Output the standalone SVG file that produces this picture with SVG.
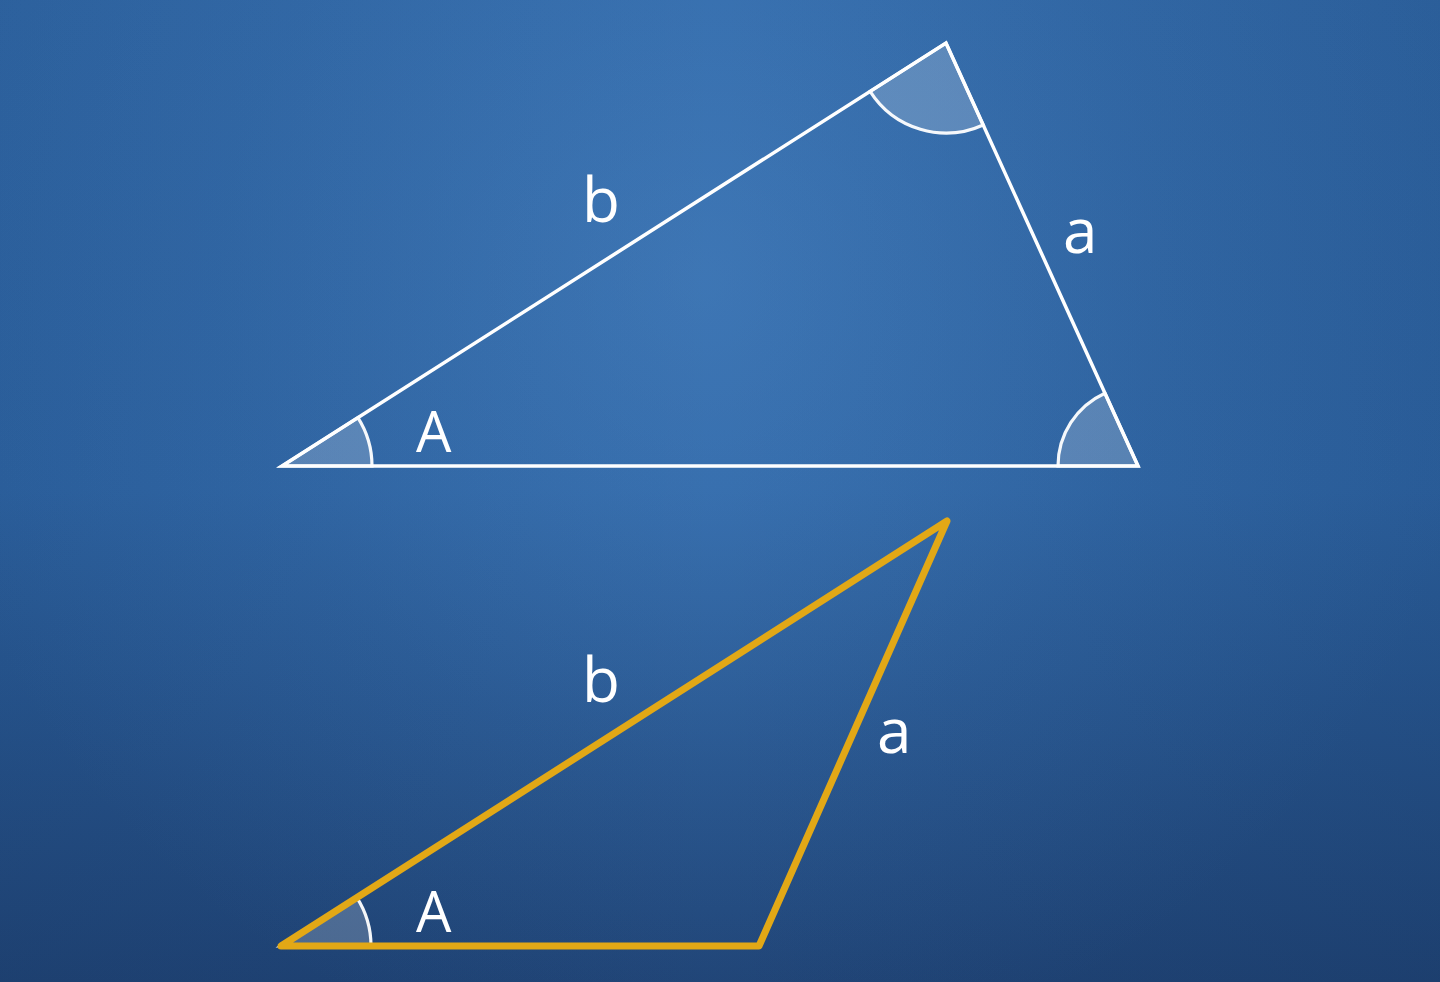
<svg xmlns="http://www.w3.org/2000/svg" width="1440" height="982" viewBox="0 0 1440 982">
  <defs>
    <linearGradient id="bgl" x1="0" y1="0" x2="0" y2="982" gradientUnits="userSpaceOnUse">
      <stop offset="0" stop-color="#3068a8"/>
      <stop offset="0.5" stop-color="#2d64a4"/>
      <stop offset="1" stop-color="#1f4375"/>
    </linearGradient>
    <radialGradient id="bgr" cx="700" cy="280" r="800" gradientUnits="userSpaceOnUse">
      <stop offset="0" stop-color="#5a94d0" stop-opacity="0.35"/>
      <stop offset="0.6" stop-color="#5a94d0" stop-opacity="0.1"/>
      <stop offset="1" stop-color="#5a94d0" stop-opacity="0"/>
    </radialGradient>
    <linearGradient id="bgh" x1="0" y1="0" x2="1440" y2="0" gradientUnits="userSpaceOnUse">
      <stop offset="0" stop-color="#10284a" stop-opacity="0.12"/>
      <stop offset="0.5" stop-color="#10284a" stop-opacity="0"/>
      <stop offset="1" stop-color="#10284a" stop-opacity="0.15"/>
    </linearGradient>
    <style>
      .tri-w { fill: none; stroke: #ffffff; stroke-width: 3.5; stroke-linejoin: miter; }
      .tri-y { fill: none; stroke: #e2a816; stroke-width: 7; stroke-linejoin: round; stroke-linecap: round; }
      .ang { fill: #ffffff; fill-opacity: 0.2; stroke: #ffffff; stroke-width: 3.2; stroke-opacity: 0.95; }
      .lbl { font-family: "Open Sans", "Noto Sans", "Liberation Sans", sans-serif; fill: #ffffff; font-size: 62px; }
      .lblA { font-family: "Open Sans", "Noto Sans", "Liberation Sans", sans-serif; fill: #ffffff; font-size: 56px; }
    </style>
  </defs>
  <rect width="1440" height="982" fill="url(#bgl)"/>
  <rect width="1440" height="982" fill="url(#bgr)"/>
  <rect width="1440" height="982" fill="url(#bgh)"/>

  <g id="top-triangle">
    <path class="ang" d="M282,466 L357.9,417.6 A90,90 0 0 1 372,466 Z"/>
    <path class="ang" d="M946,43 L870.1,91.4 A90,90 0 0 0 983.2,125 Z"/>
    <path class="ang" d="M1138,466 L1058,466 A80,80 0 0 1 1104.9,393.2 Z"/>
    <polygon class="tri-w" points="282,466 946,43 1138,466"/>
    <text class="lbl" x="582" y="222">b</text>
    <text class="lbl" x="1063" y="253">a</text>
    <text class="lblA" x="416" y="452">A</text>
  </g>

  <g id="bottom-triangle">
    <path class="ang" d="M281,946 L356.9,897.6 A90,90 0 0 1 371,946 Z"/>
    <polygon class="tri-y" points="281,946 947,521 759,946"/>
    <text class="lbl" x="582" y="702">b</text>
    <text class="lbl" x="877" y="753">a</text>
    <text class="lblA" x="416" y="932">A</text>
  </g>

  <g id="connectors"></g>
</svg>
